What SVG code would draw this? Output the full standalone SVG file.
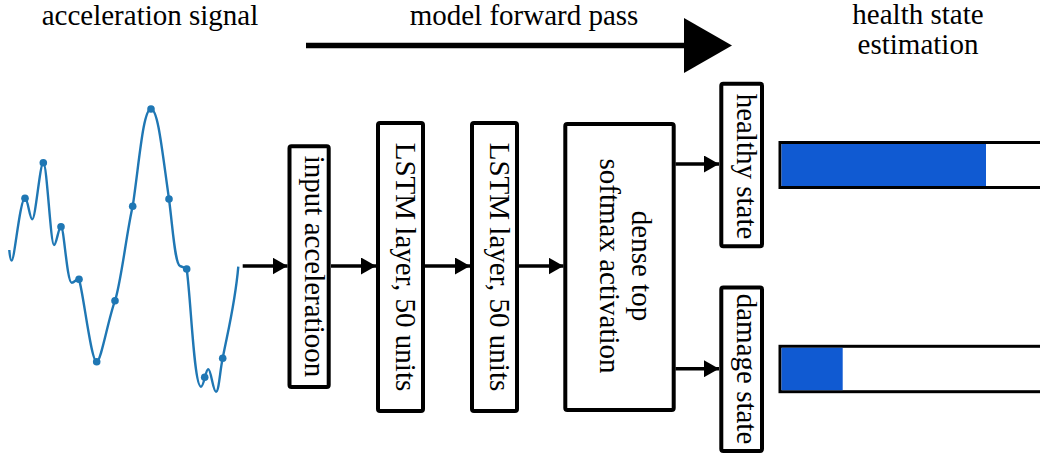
<svg xmlns="http://www.w3.org/2000/svg" width="1040" height="456" viewBox="0 0 1040 456">
<defs>
<style>
.t{font-family:"Liberation Serif","Times New Roman",serif;font-size:29px;fill:#000}
.box{fill:#fff;stroke:#000;stroke-width:4}
.con{stroke:#000;stroke-width:3.5;fill:none}
.wave{fill:none;stroke:#1f77b4;stroke-width:2.4}
.dot{fill:#1f77b4}
.bar{fill:#fff;stroke:#000;stroke-width:3}
.fill{fill:#105ad2}
</style>
<marker id="ah" viewBox="0 0 15 17" refX="15" refY="8.5" markerWidth="15" markerHeight="17" markerUnits="userSpaceOnUse" orient="auto">
<path d="M0,0 L15,8.5 L0,17 Z" fill="#000"/>
</marker>
</defs>
<rect width="1040" height="456" fill="#fff"/>

<g id="titles" font-family="Liberation Serif, Times New Roman, serif">
<text class="t" x="41.7" y="25">acceleration signal</text>
<text class="t" x="524" y="25" text-anchor="middle">model forward pass</text>
<text class="t" x="918" y="24" text-anchor="middle">health state</text>
<text class="t" x="918" y="54" text-anchor="middle">estimation</text>
</g>

<g id="forward-arrow">
<line x1="306" y1="45.5" x2="686" y2="45.5" stroke="#000" stroke-width="5.5"/>
<path d="M684,18 L732,45.5 L684,73 Z" fill="#000"/>
</g>

<g id="signal">
<path class="wave" d="M9.3,250 C9.8,256 10.5,260.5 11.7,260.5 C14.5,260.5 20,198.3 25,198.3 C28,198.3 29.5,219.3 32.3,219.3 C35.5,219.3 40,162.7 43.3,162.7 C47,162.7 50.5,245 54,245 C56.5,245 58.5,226.7 61,226.7 C64,226.7 67,282.7 71.7,282.7 C74.5,282.7 77,278 79,279.5 C83,290 91,361.7 96.7,361.7 C101,361.7 108,320 115,300.7 C121,283 127,230 132.7,206.3 C139,165 143,109 151,109 C158,109 162,150 169,199 C173,230 175,264 180,266 C183,267 185,268 186.7,269 C191,300 194,386.7 201,386.7 C204,386.7 205.5,369.3 208.3,369.3 C211,369.3 213,391.7 216,391.7 C219,391.7 220,370 222.7,358.3 C227,335 235,305 238.3,266.7"/>
<g class="dot">
<circle cx="25" cy="198.3" r="3.8"/>
<circle cx="43.3" cy="162.7" r="3.8"/>
<circle cx="61" cy="226.7" r="3.8"/>
<circle cx="79" cy="279.3" r="3.8"/>
<circle cx="96.7" cy="361.7" r="3.8"/>
<circle cx="115" cy="300.7" r="3.8"/>
<circle cx="132.7" cy="206.3" r="3.8"/>
<circle cx="151" cy="109" r="3.8"/>
<circle cx="169" cy="199" r="3.8"/>
<circle cx="186.7" cy="269" r="3.8"/>
<circle cx="204.7" cy="377.3" r="3.8"/>
<circle cx="222.7" cy="358.3" r="3.8"/>
</g>
</g>

<g id="connectors">
<line class="con" x1="242.7" y1="266" x2="287.5" y2="266" marker-end="url(#ah)"/>
<line class="con" x1="331" y1="266" x2="376" y2="266" marker-end="url(#ah)"/>
<line class="con" x1="425" y1="266" x2="470" y2="266" marker-end="url(#ah)"/>
<line class="con" x1="519" y1="266" x2="563.5" y2="266" marker-end="url(#ah)"/>
<line class="con" x1="675.5" y1="164" x2="719" y2="164" marker-end="url(#ah)"/>
<line class="con" x1="675.5" y1="368.7" x2="719" y2="368.7" marker-end="url(#ah)"/>
</g>

<g id="input">
<rect class="box" x="289.5" y="146.3" width="39.2" height="240.7" rx="2"/>
<text class="t" transform="translate(305,266.5) rotate(90)" text-anchor="middle">input acceleratioon</text>
</g>
<g id="lstm1">
<rect class="box" x="378" y="123" width="45" height="288" rx="2"/>
<text class="t" transform="translate(396,267) rotate(90)" text-anchor="middle">LSTM layer, 50 units</text>
</g>
<g id="lstm2">
<rect class="box" x="472" y="123" width="45" height="288" rx="2"/>
<text class="t" transform="translate(490,267) rotate(90)" text-anchor="middle">LSTM layer, 50 units</text>
</g>
<g id="dense">
<rect class="box" x="565.3" y="124" width="108.4" height="286" rx="2"/>
<text class="t" transform="translate(632,266) rotate(90)" text-anchor="middle">dense top</text>
<text class="t" transform="translate(600,266) rotate(90)" text-anchor="middle">softmax activation</text>
</g>
<g id="healthy">
<rect class="box" x="721.3" y="83.7" width="40.7" height="162.6" rx="2"/>
<text class="t" transform="translate(737,166.5) rotate(90)" text-anchor="middle">healthy state</text>
</g>
<g id="damage">
<rect class="box" x="721.3" y="287.5" width="40.7" height="163.5" rx="2"/>
<text class="t" transform="translate(737,369) rotate(90)" text-anchor="middle">damage state</text>
</g>

<g id="healthy-bar">
<rect class="bar" x="780" y="142.5" width="270" height="45"/>
<rect class="fill" x="781.5" y="144" width="204.5" height="42"/>
</g>
<g id="damage-bar">
<rect class="bar" x="780" y="346.3" width="270" height="45.4"/>
<rect class="fill" x="781.5" y="347.8" width="61.2" height="42.4"/>
</g>
</svg>
